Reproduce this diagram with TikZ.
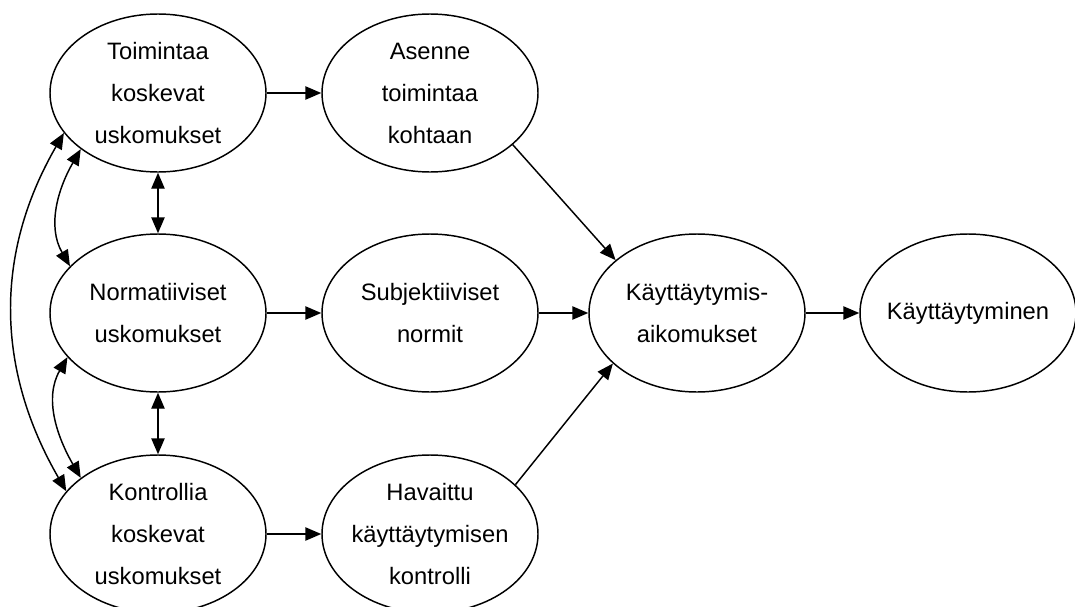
\documentclass[tikz,border=0pt]{standalone}
\usepackage{fontspec}
\setmainfont{Liberation Sans}
\usetikzlibrary{shapes.geometric,arrows.meta}
\begin{document}
\begin{tikzpicture}[x=0.75pt,y=0.75pt,
  ell/.style={ellipse,draw,line width=1.1pt,minimum width=162pt,minimum height=118.5pt,
    inner xsep=-8pt,inner ysep=0pt,align=center,
    font=\fontsize{17.8}{31.5}\selectfont},
  conn/.style={line width=1.1pt,-{Triangle[length=12pt,width=10pt]}},
  biconn/.style={line width=1.1pt,{Triangle[length=12pt,width=10pt]}-{Triangle[length=12pt,width=10pt]}}]
\useasboundingbox (0,0) rectangle (1075,-607);
\node[ell] (e1) at (158,-93) {Toimintaa\\koskevat\\uskomukset};
\node[ell] (e2) at (430,-93) {Asenne\\toimintaa\\kohtaan};
\node[ell] (e3) at (158,-313) {Normatiiviset\\uskomukset};
\node[ell] (e4) at (430,-313) {Subjektiiviset\\normit};
\node[ell] (e5) at (697,-313) {Käyttäytymis-\\aikomukset};
\node[ell] (e6) at (968,-313) {Käyttäytyminen};
\node[ell] (e7) at (158,-534) {Kontrollia\\koskevat\\uskomukset};
\node[ell] (e8) at (430,-534) {Havaittu\\käyttäytymisen\\kontrolli};
% forward arrows
\draw[conn] (e1.east) -- (e2.west);
\draw[conn] (e3.east) -- (e4.west);
\draw[conn] (e7.east) -- (e8.west);
\draw[conn] (e4.east) -- (e5.west);
\draw[conn] (e5.east) -- (e6.west);
\draw[conn] (e2.-32) -- (e5.147);
\draw[conn] (e8.30) -- (e5.-149);
% correlations
\draw[biconn] (e1.south) -- (e3.north);
\draw[biconn] (e3.south) -- (e7.north);
\draw[biconn] (e1.-144.8) to[out=240,in=120] (e3.152.4);
\draw[biconn] (e3.206.6) to[out=240,in=120] (e7.144.5);
\draw[biconn] (e1.203.8) to[out=240,in=120] (e7.155);
\end{tikzpicture}
\end{document}
